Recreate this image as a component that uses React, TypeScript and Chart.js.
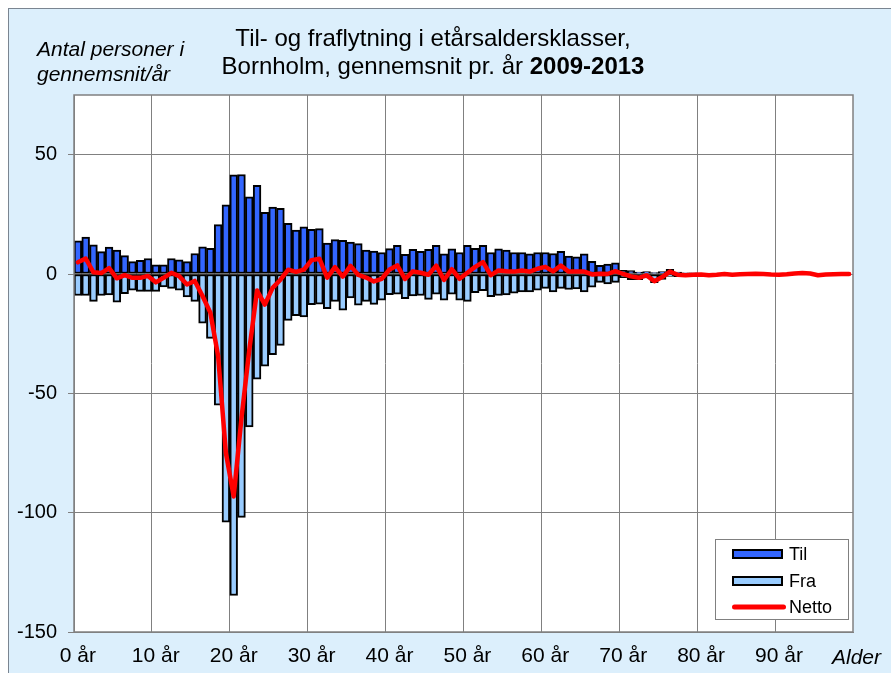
import React, { useEffect, useRef } from "react";
import { Chart, registerables } from "chart.js";
Chart.register(...registerables);

const ages = [
  0, 1, 2, 3, 4, 5, 6, 7, 8, 9,
  10, 11, 12, 13, 14, 15, 16, 17, 18, 19,
  20, 21, 22, 23, 24, 25, 26, 27, 28, 29,
  30, 31, 32, 33, 34, 35, 36, 37, 38, 39,
  40, 41, 42, 43, 44, 45, 46, 47, 48, 49,
  50, 51, 52, 53, 54, 55, 56, 57, 58, 59,
  60, 61, 62, 63, 64, 65, 66, 67, 68, 69,
  70, 71, 72, 73, 74, 75, 76, 77, 78, 79,
  80, 81, 82, 83, 84, 85, 86, 87, 88, 89,
  90, 91, 92, 93, 94, 95, 96, 97, 98, 99,
];

const xTickLabels = ["0 år", "10 år", "20 år", "30 år", "40 år", "50 år", "60 år", "70 år", "80 år", "90 år"];
const yTickValues = [-150, -100, -50, 0, 50];

const til = [
  13.9, 15.5, 12.2, 9.4, 11.3, 10.0, 7.7, 5.2, 5.7, 6.5,
  3.8, 3.8, 6.5, 5.9, 5.2, 8.6, 11.4, 10.8, 20.7, 29.0,
  41.5, 41.7, 32.3, 37.2, 25.8, 28.0, 27.5, 21.2, 18.4, 19.8,
  18.7, 19.0, 13.0, 14.4, 14.1, 13.4, 12.7, 10.0, 9.6, 9.0,
  10.6, 12.0, 8.2, 10.3, 9.5, 10.3, 12.0, 8.5, 10.5, 9.0,
  12.0, 10.8, 12.0, 9.0, 10.5, 10.0, 9.0, 9.0, 8.5, 9.0,
  9.0, 8.6, 9.5, 7.5, 7.2, 8.5, 5.3, 3.6, 4.2, 4.7,
  1.5, 1.4, 0.8, 1.0, 0.6, 1.0, 2.0, 0.8, 0.5, 0.5,
  0.3, 0.2, 0.3, 0.3, 0.2, 0.3, 0.2, 0.3, 0.2, 0.1,
  0.1, 0.1, 0.2, 0.4, 0.2, 0.0, 0.0, 0.0, 0.0, 0.0,
];

const fra = [
  -9.0, -9.0, -11.5, -9.0, -8.8, -11.8, -8.2, -6.8, -7.3, -7.3,
  -7.3, -5.4, -6.0, -6.8, -9.6, -11.5, -20.6, -27.0, -55.0, -104.0,
  -134.7, -102.0, -64.1, -44.1, -38.6, -33.8, -29.9, -19.4, -17.5, -18.0,
  -12.9, -12.6, -14.5, -11.5, -15.2, -10.0, -13.1, -11.5, -12.7, -11.0,
  -8.7, -8.4, -10.3, -9.2, -9.0, -10.6, -8.5, -11.0, -8.5, -11.0,
  -11.5, -7.8, -7.0, -9.5, -9.0, -8.8, -8.0, -7.5, -7.5, -6.8,
  -6.0, -7.5, -6.0, -6.5, -6.2, -7.5, -5.5, -3.5, -4.2, -3.5,
  -1.5, -2.4, -2.4, -1.6, -3.6, -2.3, -1.0, -1.1, -1.0, -0.8,
  -0.5, -0.7, -0.6, -0.3, -0.5, -0.4, -0.2, -0.2, -0.2, -0.3,
  -0.4, -0.2, 0.0, 0.0, 0.0, -0.5, -0.2, -0.1, 0.0, 0.0,
];

const netto = [
  4.9, 6.5, 0.7, 0.4, 2.5, -1.8, -0.5, -1.6, -1.6, -0.8,
  -3.5, -1.6, 0.5, -0.9, -4.4, -2.9, -9.2, -16.2, -34.3, -75.0,
  -93.2, -60.3, -31.8, -6.9, -12.8, -5.8, -2.4, 1.8, 0.9, 1.8,
  5.8, 6.4, -1.5, 2.9, -1.1, 3.4, -0.4, -1.5, -3.1, -2.0,
  1.9, 3.6, -2.1, 1.1, 0.5, -0.3, 3.5, -2.5, 2.0, -2.0,
  0.5, 3.0, 5.0, -0.5, 1.5, 1.2, 1.0, 1.5, 1.0, 2.2,
  3.0, 1.1, 3.5, 1.0, 1.0, 1.0, -0.2, 0.1, 0.0, 1.2,
  0.0, -1.0, -1.6, -0.6, -3.0, -1.3, 1.0, -0.3, -0.5, -0.3,
  -0.2, -0.5, -0.3, 0.0, -0.3, -0.1, 0.0, 0.1, 0.0, -0.2,
  -0.3, -0.1, 0.2, 0.4, 0.2, -0.5, -0.2, -0.1, 0.0, 0.0,
];

const FONT = '"Liberation Sans", Arial, Helvetica, sans-serif';
const TIL_COLOR = "#3366FF";
const FRA_COLOR = "#99CCFF";
const NETTO_COLOR = "#FF0000";
const BG = "#DCEFFC";
const GRID = "#808080";

export default function App() {
  const ref = useRef<HTMLCanvasElement>(null);

  useEffect(() => {
    const plotBg = {
      id: "plotBg",
      beforeDraw(chart: any) {
        const { ctx, chartArea: a } = chart;
        ctx.save();
        ctx.fillStyle = "#FFFFFF";
        ctx.fillRect(a.left, a.top, a.right - a.left, a.bottom - a.top);
        ctx.restore();
      },
    };
    const frame = {
      id: "frame",
      afterDraw(chart: any) {
        const { ctx, chartArea: a } = chart;
        ctx.save();
        ctx.strokeStyle = GRID;
        ctx.lineWidth = 1.5;
        ctx.strokeRect(a.left, a.top, a.right - a.left, a.bottom - a.top);
        ctx.restore();
      },
    };

    const chart = new Chart(ref.current as HTMLCanvasElement, {
      type: "bar",
      data: {
        labels: ages,
        datasets: [
          {
            type: "line",
            label: "Netto",
            data: netto,
            borderColor: NETTO_COLOR,
            backgroundColor: NETTO_COLOR,
            borderWidth: 4.5,
            pointRadius: 0,
            tension: 0,
            borderJoinStyle: "round",
            borderCapStyle: "round",
            order: 0,
          } as any,
          {
            type: "bar",
            label: "Til",
            data: til,
            backgroundColor: TIL_COLOR,
            borderColor: "#000000",
            borderWidth: 2,
            borderSkipped: false,
            grouped: false,
            categoryPercentage: 1,
            barPercentage: 1,
            order: 1,
          } as any,
          {
            type: "bar",
            label: "Fra",
            data: fra,
            backgroundColor: FRA_COLOR,
            borderColor: "#000000",
            borderWidth: 2,
            borderSkipped: false,
            grouped: false,
            categoryPercentage: 1,
            barPercentage: 1,
            order: 2,
          } as any,
        ],
      },
      options: {
        responsive: false,
        animation: false,
        layout: { padding: { top: 87, right: 38, left: 0, bottom: 0 } },
        plugins: {
          legend: { display: false },
          tooltip: { enabled: false },
          title: { display: false },
        },
        scales: {
          x: {
            offset: true,
            grid: {
              offset: true,
              lineWidth: 1,
              drawTicks: false,
              color: (c: any) => (c.index % 10 === 0 ? GRID : "rgba(0,0,0,0)"),
            },
            border: { display: true, color: GRID },
            ticks: {
              autoSkip: false,
              maxRotation: 0,
              minRotation: 0,
              padding: 12,
              color: "#000000",
              font: { family: FONT, size: 21 },
              callback: (_v: any, i: number) => (i % 10 === 0 ? xTickLabels[i / 10] : ""),
            },
            afterFit: (s: any) => {
              s.height = 41;
            },
          },
          y: {
            min: -150,
            max: 75,
            bounds: "data",
            ticks: {
              stepSize: 50,
              includeBounds: false,
              padding: 11,
              color: "#000000",
              font: { family: FONT, size: 20 },
              callback: (v: any) => (yTickValues.includes(Number(v)) ? String(v) : null),
            },
            grid: { color: GRID, lineWidth: 1, tickLength: 6, drawTicks: true },
            border: { display: true, color: GRID },
            afterFit: (s: any) => {
              s.width = 66;
            },
          },
        },
      } as any,
      plugins: [plotBg, frame],
    });
    return () => chart.destroy();
  }, []);

  const legendRow = (top: number, swatch: React.ReactNode, text: string) => (
    <div style={{ position: "absolute", left: 0, top, height: 26, width: "100%" }}>
      <div style={{ position: "absolute", left: 16, top: 13, transform: "translateY(-50%)" }}>{swatch}</div>
      <div
        style={{
          position: "absolute",
          left: 73,
          top: 0,
          lineHeight: "26px",
          fontSize: 18,
          fontFamily: FONT,
          color: "#000",
        }}
      >
        {text}
      </div>
    </div>
  );

  return (
    <div
      style={{
        position: "fixed",
        left: 8,
        top: 8,
        width: 883,
        height: 665,
        background: BG,
        overflow: "hidden",
      }}
    >
      <div
        style={{
          position: "absolute",
          left: 0,
          top: 0,
          width: 883,
          height: 665,
          boxSizing: "border-box",
          borderLeft: "1px solid #7A8591",
          borderTop: "1px solid #7A8591",
          pointerEvents: "none",
        }}
      />
      <canvas ref={ref} width={883} height={665} style={{ position: "absolute", left: 0, top: 0 }} />
      <div
        style={{
          position: "absolute",
          left: 165,
          top: 16,
          width: 520,
          textAlign: "center",
          fontFamily: FONT,
          fontSize: 24,
          lineHeight: "28px",
          color: "#000",
        }}
      >
        <div>Til- og fraflytning i etårsaldersklasser,</div>
        <div>
          Bornholm, gennemsnit pr. år <b>2009-2013</b>
        </div>
      </div>
      <div
        style={{
          position: "absolute",
          left: 29,
          top: 28,
          fontFamily: FONT,
          fontSize: 21,
          lineHeight: "25px",
          fontStyle: "italic",
          color: "#000",
          whiteSpace: "nowrap",
        }}
      >
        <div>Antal personer i</div>
        <div>gennemsnit/år</div>
      </div>
      <div
        style={{
          position: "absolute",
          left: 824,
          top: 636,
          fontFamily: FONT,
          fontSize: 21,
          lineHeight: "25px",
          fontStyle: "italic",
          color: "#000",
        }}
      >
        Alder
      </div>
      <div
        style={{
          position: "absolute",
          left: 707,
          top: 531,
          width: 134,
          height: 81,
          boxSizing: "border-box",
          background: "#FFFFFF",
          border: "1px solid #808080",
        }}
      >
        {legendRow(
          1,
          <div style={{ width: 51, height: 10, boxSizing: "border-box", background: TIL_COLOR, border: "2px solid #000" }} />,
          "Til"
        )}
        {legendRow(
          28,
          <div style={{ width: 51, height: 10, boxSizing: "border-box", background: FRA_COLOR, border: "2px solid #000" }} />,
          "Fra"
        )}
        {legendRow(54, <div style={{ width: 54, height: 5, borderRadius: 3, background: NETTO_COLOR }} />, "Netto")}
      </div>
    </div>
  );
}
